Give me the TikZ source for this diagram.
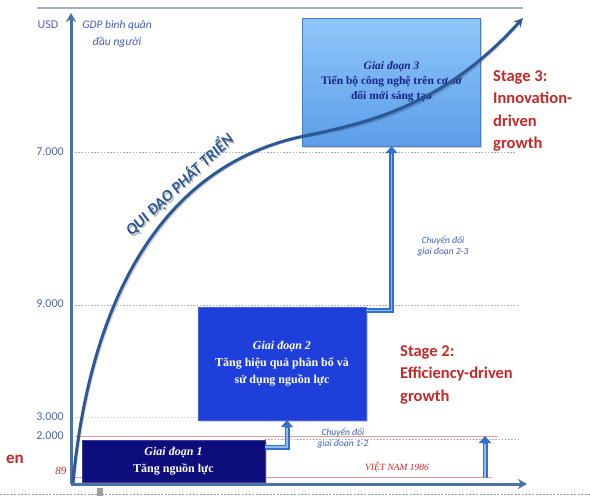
\documentclass[tikz,border=0pt]{standalone}
\usepackage{fontspec}
\setmainfont{Carlito}
\newfontfamily\boxfont{Liberation Serif}
\usetikzlibrary{arrows.meta,shadows}

\definecolor{axisblue}{HTML}{4A72A8}
\definecolor{numblue}{HTML}{4F63B5}
\definecolor{lblblue}{HTML}{3F5FC4}
\definecolor{navybox}{HTML}{0D0D7C}
\definecolor{royalbox}{HTML}{1F3FDA}
\definecolor{skytop}{HTML}{8EC6F8}
\definecolor{skybot}{HTML}{5C9EEA}
\definecolor{skytext}{HTML}{1A2380}
\definecolor{stagered}{HTML}{C62828}
\definecolor{curveblue}{HTML}{2C5896}
\definecolor{arrowblue}{HTML}{3370CF}
\definecolor{arrowhi}{HTML}{8DBDF3}
\definecolor{gridgray}{HTML}{A8B0C0}
\definecolor{linered}{HTML}{E39A9A}

\begin{document}
\begin{tikzpicture}[x=1pt,y=-1pt,
  gridline/.style={gridgray, line width=0.9pt, dash pattern=on 1.6pt off 1.6pt},
  redline/.style={linered, line width=0.8pt},
  axisline/.style={axisblue, line width=3pt, -{Stealth[length=9pt,width=10pt]}},
  axisnum/.style={text=numblue, font=\fontsize{12}{14}\selectfont, inner sep=0},
  stagebox/.style={inner sep=0, align=center, font=\boxfont\bfseries\fontsize{12}{17}\selectfont,
    drop shadow={opacity=0.35, shadow xshift=1.5pt, shadow yshift=-1.5pt}},
  steparrow/.style={arrowblue, line width=5pt, -{Triangle[width=12pt,length=7pt]},
    postaction={draw=arrowhi, line width=1.4pt, -, shorten >=8pt}},
  stagelabel/.style={text=stagered, font=\bfseries\fontsize{16.5}{22.5}\selectfont,
    align=left, inner sep=0, anchor=north west},
  note/.style={text=lblblue, font=\itshape\fontsize{9.5}{11.5}\selectfont, align=center, inner sep=0},
  trendcurve/.style={curveblue, line width=3pt, -{Stealth[length=9pt,width=9pt]}},
  trendtext/.style={rotate=43, anchor=south, inner sep=0, font=\bfseries\itshape\fontsize{16}{16}\selectfont}
]
\useasboundingbox (0,0) rectangle (590,496);
\clip (0,0) rectangle (590,496);

% frame lines of the slide
\draw[gridgray, line width=1.2pt] (37,8) -- (523,8);
\draw[gray!80, line width=0.8pt, dash pattern=on 2pt off 1.5pt] (0,494) -- (590,494);
\fill[gray!75] (97,488) rectangle (103,496);

% value levels
\draw[gridline] (75,152) -- (515,152);
\draw[gridline] (75,305) -- (517,305);
\draw[gridline, opacity=0.5] (75,417) -- (198,417);
\draw[gridline] (265,439) -- (520,439);
\draw[redline] (75,436) -- (498,436);
\draw[redline] (75,477) -- (492,477);

% axes
\coordinate (O) at (71,484);
\coordinate (ytop) at (71,13);
\coordinate (xend) at (527,484);
\draw[axisline] (O) -- (ytop);
\draw[axisline] (O) -- (xend);

% axis labels
\node[axisnum] (usd) at (48,25) {USD};
\node[text=lblblue, font=\itshape\fontsize{11.5}{16.5}\selectfont, align=center, inner sep=0] (gdp) at (117,34) {GDP bình quân\\đầu người};
\node[axisnum] (v7) at (50,152) {7.000};
\node[axisnum] (v9) at (50,304) {9.000};
\node[axisnum] (v3) at (50,417) {3.000};
\node[axisnum] (v2) at (50,436) {2.000};
\node[text=stagered, font=\boxfont\itshape\fontsize{11}{13}\selectfont, inner sep=0] (v89) at (61,471) {89};

% stage boxes
\node[stagebox, fill=navybox, draw=navybox!80!white, text=white,
  minimum width=183pt, minimum height=42pt] (s1) at (173.5,461)
  {\textit{Giai đoạn 1}\\Tăng nguồn lực};
\node[stagebox, fill=royalbox, draw=royalbox!85!white, text=white,
  minimum width=168pt, minimum height=113pt] (s2) at (282,363.5)
  {\textit{Giai đoạn 2}\\Tăng hiệu quả phân bổ và\\sử dụng nguồn lực};
\node[stagebox, top color=skytop, bottom color=skybot, draw=skybot!80!black, text=skytext,
  font=\boxfont\bfseries\fontsize{11.5}{15}\selectfont,
  minimum width=178pt, minimum height=128pt] (s3) at (391.5,82)
  {\textit{Giai đoạn 3}\\Tiến bộ công nghệ trên cơ sở\\đổi mới sáng tạo};

% transitions between stages
\draw[steparrow] ([yshift=14pt]s1.east) -| ([xshift=5pt]s2.south);
\draw[steparrow] ([yshift=53pt]s2.east) -| (s3.south);
\coordinate (vn0) at (485,478);
\coordinate (vn1) at (485,436);
\draw[steparrow] (vn0) -- (vn1);

\node[note] (t12) at (343,438) {Chuyển đổi\\giai đoạn 1-2};
\node[note] (t23) at (443,246) {Chuyển đổi\\giai đoạn 2-3};
\node[text=stagered, font=\boxfont\itshape\fontsize{9.5}{11}\selectfont, inner sep=0] (vn) at (397,467) {VIỆT NAM 1986};

% development path
\coordinate (p0) at (73,483);
\coordinate (pm) at (300,137);
\coordinate (p1) at (523,18);
\draw[black, opacity=0.18, line width=3.5pt, shift={(1,2)}]
  (p0) .. controls (88,320) and (150,170) .. (pm)
       .. controls (360,124) and (440,110) .. ([shift={(-6,7)}]p1);
\draw[trendcurve]
  (p0) .. controls (88,320) and (150,170) .. (pm)
       .. controls (360,124) and (440,110) .. (p1);
\node[trendtext, text=gray!55] at (186.5,192.5) {QUI ĐẠO PHÁT TRIỂN};
\node[trendtext, text=curveblue] (path) at (185,191) {QUI ĐẠO PHÁT TRIỂN};

% stage captions
\node[stagelabel] (cap3) at (493,70) {Stage 3:\\Innovation-\\driven\\growth};
\node[stagelabel] (cap2) at (400,345) {Stage 2:\\Efficiency-driven\\growth};
\node[text=stagered, font=\bfseries\fontsize{17}{20}\selectfont, inner sep=0, anchor=base east] (cut) at (24,463) {en};

\end{tikzpicture}
\end{document}
